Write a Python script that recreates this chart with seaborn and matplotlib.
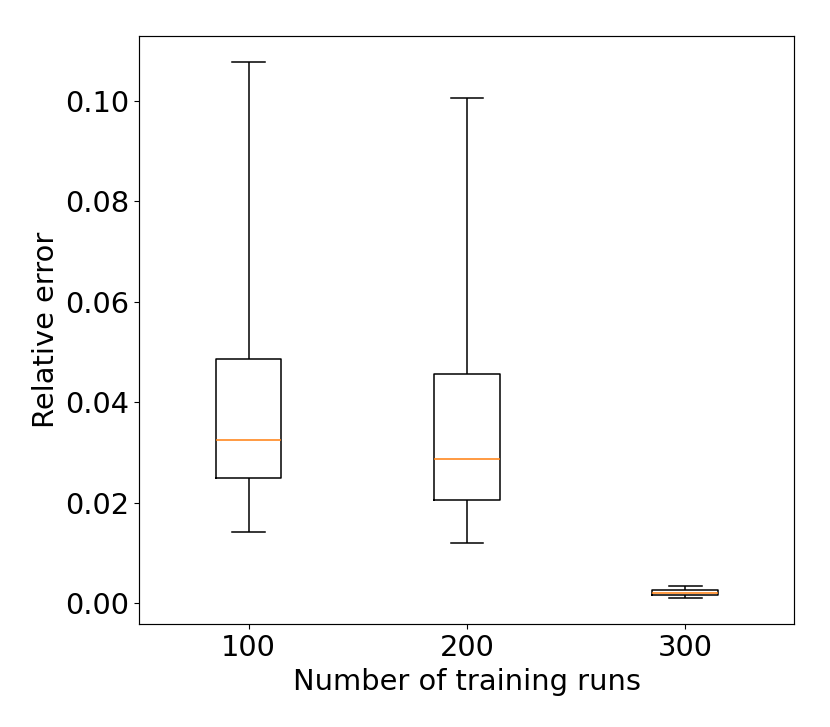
import pandas as pd
import numpy as np
import seaborn as sns
import matplotlib.pyplot as plt

# five-number summaries: min, q1, median, q3, max
runs = ["100", "200", "300"]
err_100 = [0.0141, 0.0250, 0.0324, 0.0485, 0.1076]
err_200 = [0.0119, 0.0205, 0.0286, 0.0457, 0.1006]
err_300 = [0.0011, 0.0016, 0.0020, 0.0026, 0.0034]

df = pd.DataFrame({
    "runs": np.repeat(runs, 5),
    "error": err_100 + err_200 + err_300,
})

plt.rcParams["font.size"] = 20.8
plt.rcParams["axes.linewidth"] = 0.85
plt.rcParams["xtick.major.size"] = 3.7
plt.rcParams["ytick.major.size"] = 3.7
fig, ax = plt.subplots(figsize=(8.3, 7.27), dpi=100)

sns.boxplot(
    data=df,
    x="runs",
    y="error",
    order=runs,
    whis=(0, 100),
    width=0.3,
    fill=False,
    color="black",
    linewidth=1.1,
    medianprops={"color": "C1"},
    ax=ax,
)

ax.set_xlim(-0.5, 2.5)
ax.set_xlabel("Number of training runs")
ax.set_ylabel("Relative error")
ax.margins(y=0.05)

fig.subplots_adjust(left=0.168, right=0.957, top=0.951, bottom=0.141)
fig.savefig("out.png", dpi=100)
